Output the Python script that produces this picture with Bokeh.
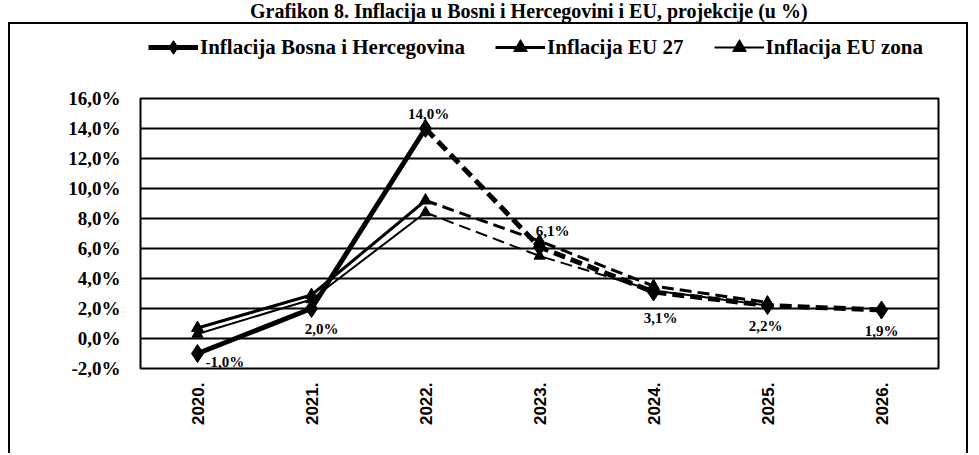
from bokeh.plotting import figure
from bokeh.models import (FactorRange, Range1d, FixedTicker, CustomJSTickFormatter,
                          Legend, LegendItem, ColumnDataSource, Div)
from bokeh.layouts import column
from bokeh.core.properties import value
from bokeh.embed import file_html
from bokeh.resources import INLINE
import math

# ---- data ----
years = ["2020.", "2021.", "2022.", "2023.", "2024.", "2025.", "2026."]
bih = [-1.0, 2.0, 14.0, 6.1, 3.1, 2.2, 1.9]
eu27_years = ["2020.", "2021.", "2022.", "2023.", "2024.", "2025."]
eu27 = [0.7, 2.9, 9.2, 6.5, 3.5, 2.4]
euzona_years = ["2020.", "2021.", "2022.", "2023.", "2024.", "2025."]
euzona = [0.3, 2.6, 8.4, 5.5, 3.2, 2.2]
y_ticks = [-2, 0, 2, 4, 6, 8, 10, 12, 14, 16]
series_names = ["Inflacija Bosna i Hercegovina", "Inflacija EU 27", "Inflacija EU zona"]
title_text = "Grafikon 8. Inflacija u Bosni i Hercegovini i EU, projekcije (u %)"
last_actual = 2  # index of 2022 -> projections after it are dashed

# ---- styling ----
lab_dx = [8, 10, 3, 13, 7, -2, 0]
lab_dy = [8, 20, -15, -16, 26, 20, 21]
lab_align = ["left", "center", "center", "center", "center", "center", "center"]
series_style = [  # (line width, marker, marker size)
    (5, "diamond", 18),
    (3, "triangle", 12),
    (2, "triangle", 11),
]

SERIF = "Liberation Serif"
SANS = "Liberation Sans"
W = 956

# ---------------- main chart ----------------
p = figure(width=W, height=367, x_range=FactorRange(*years, range_padding=0),
           y_range=Range1d(-2, 16), output_backend="svg", toolbar_location=None,
           min_border_left=130, min_border_right=28, min_border_top=12, min_border_bottom=85)

p.background_fill_color = "white"
p.border_fill_color = "white"
p.outline_line_color = "black"
p.outline_line_width = 2
p.xgrid.grid_line_color = None
p.ygrid.grid_line_color = "black"
p.ygrid.grid_line_width = 2
p.ygrid.ticker = FixedTicker(ticks=y_ticks)

p.yaxis.ticker = FixedTicker(ticks=y_ticks)
p.yaxis.formatter = CustomJSTickFormatter(code="return tick.toFixed(1).replace('.', ',') + '%';")
p.yaxis.axis_line_color = None
p.yaxis.major_tick_line_color = None
p.yaxis.minor_tick_line_color = None
p.yaxis.major_label_standoff = 14
p.yaxis.major_label_text_font = SERIF
p.yaxis.major_label_text_font_style = "bold"
p.yaxis.major_label_text_font_size = "19px"
p.yaxis.major_label_text_color = "black"

p.xaxis.axis_line_color = None
p.xaxis.major_tick_line_color = None
p.xaxis.major_label_orientation = math.pi / 2
p.xaxis.major_label_standoff = 8
p.xaxis.major_label_text_font = SANS
p.xaxis.major_label_text_font_style = "bold"
p.xaxis.major_label_text_font_size = "17px"
p.xaxis.major_label_text_color = "black"


def draw_series(fig, xs, ys, style):
    width, marker, msize = style
    solid = fig.line(xs[:last_actual + 1], ys[:last_actual + 1], line_color="black", line_width=width)
    fig.line(xs[last_actual:], ys[last_actual:], line_color="black", line_width=width,
             line_dash="12 6")
    pts = fig.scatter(xs, ys, marker=marker, size=msize, fill_color="black", line_color="black")
    return [solid, pts]


draw_series(p, euzona_years, euzona, series_style[2])
draw_series(p, eu27_years, eu27, series_style[1])
draw_series(p, years, bih, series_style[0])

labels = [f"{v:.1f}%".replace(".", ",") for v in bih]
src = ColumnDataSource(dict(x=years, y=bih, t=labels, dx=lab_dx, dy=lab_dy, al=lab_align))
p.text(x="x", y="y", text="t", x_offset="dx", y_offset="dy", text_align="al", source=src,
       text_baseline="middle", text_font=value(SERIF), text_font_style="bold",
       text_font_size="15px", text_color="black")

# ---------------- legend strip (inside the same box) ----------------
# same series, drawn in a y-window where they are out of view: only their legend shows
lg = figure(width=W, height=62, x_range=p.x_range, y_range=Range1d(100, 101),
            output_backend="svg", toolbar_location=None,
            min_border_left=130, min_border_right=28, min_border_top=0, min_border_bottom=0)
lg.axis.visible = False
lg.grid.visible = False
lg.outline_line_color = None
lg.background_fill_color = "white"
lg.border_fill_color = "white"

r_bih = draw_series(lg, years, bih, series_style[0])
r_eu = draw_series(lg, eu27_years, eu27, series_style[1])
r_zona = draw_series(lg, euzona_years, euzona, series_style[2])

legend = Legend(items=[LegendItem(label=series_names[0], renderers=r_bih),
                       LegendItem(label=series_names[1], renderers=r_eu),
                       LegendItem(label=series_names[2], renderers=r_zona)],
                orientation="horizontal", location=(8, 22),
                glyph_width=50, glyph_height=34, label_standoff=2, spacing=30,
                padding=0, margin=0, border_line_color=None, background_fill_alpha=0,
                label_text_font=SERIF, label_text_font_style="bold",
                label_text_font_size="21px", label_text_color="black")
lg.add_layout(legend, "center")

box = column(lg, p, spacing=0, margin=(0, 0, 0, 8),
             styles={"border-top": "2px solid black", "border-left": "2px solid black",
                     "border-right": "2px solid black"})

title = Div(text=f"<b>{title_text}</b>", width=966, height=22, margin=(0, 0, 0, 0),
            styles={"text-align": "left", "padding-left": "250px", "font-family": SERIF,
                    "font-size": "20px", "line-height": "22px", "color": "black",
                    "width": "966px", "box-sizing": "border-box"})

layout = column(title, box, spacing=0)
open("out.html", "w").write(file_html(layout, INLINE))
